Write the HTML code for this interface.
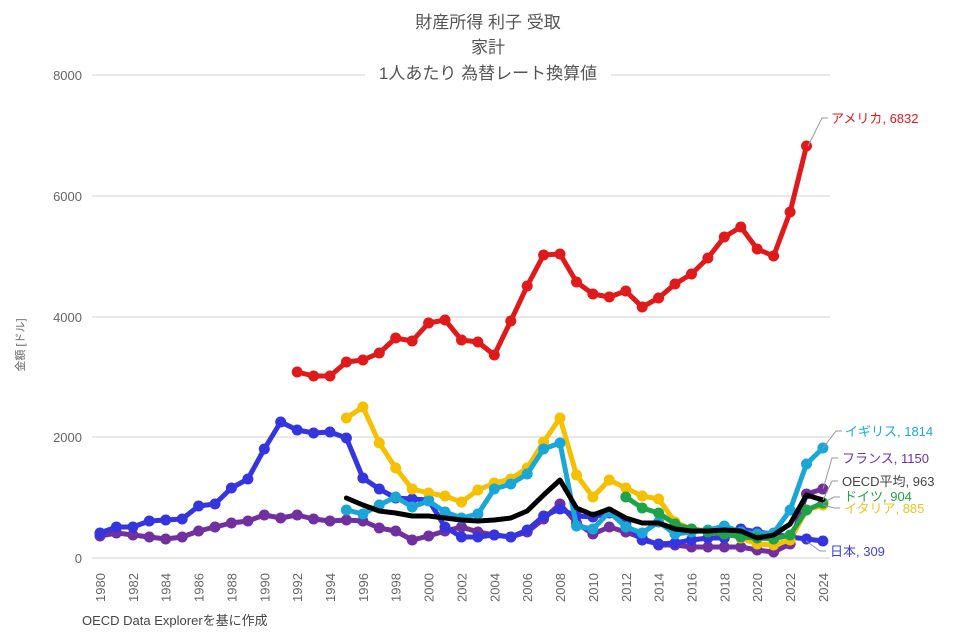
<!DOCTYPE html>
<html><head><meta charset="utf-8">
<style>
html,body{margin:0;padding:0;background:#fff;}
svg{display:block;font-family:"Liberation Sans","Noto Sans CJK JP",sans-serif;}
</style></head>
<body>
<svg id="c" width="975" height="637" viewBox="0 0 975 637" xmlns="http://www.w3.org/2000/svg">
<rect width="975" height="637" fill="#fff"/>
<g stroke="#d9d9d9" stroke-width="1.2">
<line x1="92" y1="75" x2="830" y2="75"/>
<line x1="92" y1="196" x2="830" y2="196"/>
<line x1="92" y1="317" x2="830" y2="317"/>
<line x1="92" y1="437" x2="830" y2="437"/>
<line x1="92" y1="558" x2="830" y2="558"/>
</g>
<rect x="365" y="60" width="246" height="24" fill="#fff"/>
<g fill="#555" font-size="17" text-anchor="middle">
<text x="488" y="28">財産所得 利子 受取</text>
<text x="488" y="53">家計</text>
<text x="488" y="79">1人あたり 為替レート換算値</text>
</g>
<g fill="#666" font-size="13" text-anchor="end">
<text x="82" y="80">8000</text>
<text x="82" y="201">6000</text>
<text x="82" y="322">4000</text>
<text x="82" y="442">2000</text>
<text x="82" y="563">0</text>
</g>
<text transform="translate(24,345) rotate(-90)" fill="#666" font-size="11" text-anchor="middle">金額 [ドル]</text>
<g id="xl" fill="#666" font-size="13"></g>
<text x="82" y="625" fill="#444" font-size="13">OECD Data Explorerを基に作成</text>
<g id="series"></g>
<g font-size="13">
<polyline points="808,146 822,118 828,118" fill="none" stroke="#999"/>
<text x="831" y="123" fill="#e01a1a">アメリカ, 6832</text>
<polyline points="823,448 836,431 842,431" fill="none" stroke="#999"/>
<text x="845" y="436" fill="#1aa7d8">イギリス, 1814</text>
<polyline points="823,489 832,458 838,458" fill="none" stroke="#999"/>
<text x="842" y="463" fill="#7030a0">フランス, 1150</text>
<polyline points="823,500 832,481 838,481" fill="none" stroke="#999"/>
<text x="842" y="486" fill="#444">OECD平均, 963</text>
<polyline points="823,503 834,497 840,497" fill="none" stroke="#999"/>
<text x="844" y="501" fill="#1fa34a">ドイツ, 904</text>
<polyline points="823,505 834,508 840,508" fill="none" stroke="#999"/>
<text x="844" y="513" fill="#f0c020">イタリア, 885</text>
<polyline points="806,541 820,551 826,551" fill="none" stroke="#999"/>
<text x="830" y="556" fill="#4040e0">日本, 309</text>
</g>
</svg>
<script>
var X=function(y){return 100+16.43*(y-1980);};
var xl=document.getElementById('xl'),s='';
for(var y=1980;y<=2024;y+=2){var x=X(y)+5;s+='<text transform="translate('+x.toFixed(1)+',602) rotate(-90)">'+y+'</text>';}
xl.innerHTML=s;
var D=[
["#7030a0",1980,[536,533,535,537,539,537,531,527,523,521,515,518,515,519,521,520,521,528,531,540,536,531,527,532,535,537,532,519,504,523,534,527,532,538,545,545,547,547,547,547,550,552,544,494,489],1],
["#3535e0",1980,[533,527,527,521,520,519,506,504,488,479,449,422,430,433,432,438,478,489,498,499,500,527,537,537,535,537,530,516,509,516,517,513,524,540,544,543,540,538,538,529,532,534,537,539,541],1],
["#f5c000",1995,[418,407,443,468,489,493,496,502,490,483,479,468,442,418,475,497,480,488,496,499,522,529,531,531,538,544,545,540,510,505],1],
["#1aa7d8",1995,[510,514,505,497,507,501,512,518,514,489,484,474,449,443,526,529,512,527,533,522,534,532,530,526,532,534,533,510,464,448],1],
["#1fa34a",2012,[497,508,513,524,529,532,534,537,538,539,535,510,503],1],
["#000",1995,[498,505,511,513,516,516,518,520,521,520,518,511,495,480,508,515,509,518,523,523,529,531,531,530,531,538,535,524,495,500],0],
["#e01a1a",1992,[372,376,376,362,360,353,338,341,323,320,340,342,355,321,286,255,254,282,294,297,291,307,298,284,274,258,237,227,249,256,212,146],1]
];
var g='';
D.forEach(function(d){var pts=d[2].map(function(v,i){return X(d[1]+i).toFixed(1)+','+v;});
g+='<polyline points="'+pts.join(' ')+'" fill="none" stroke="'+d[0]+'" stroke-width="5" stroke-linejoin="round" stroke-linecap="round"/>';
if(d[3]){d[2].forEach(function(v,i){g+='<circle cx="'+X(d[1]+i).toFixed(1)+'" cy="'+v+'" r="5.5" fill="'+d[0]+'"/>';});}
});
document.getElementById('series').innerHTML=g;
</script>
</body></html>
